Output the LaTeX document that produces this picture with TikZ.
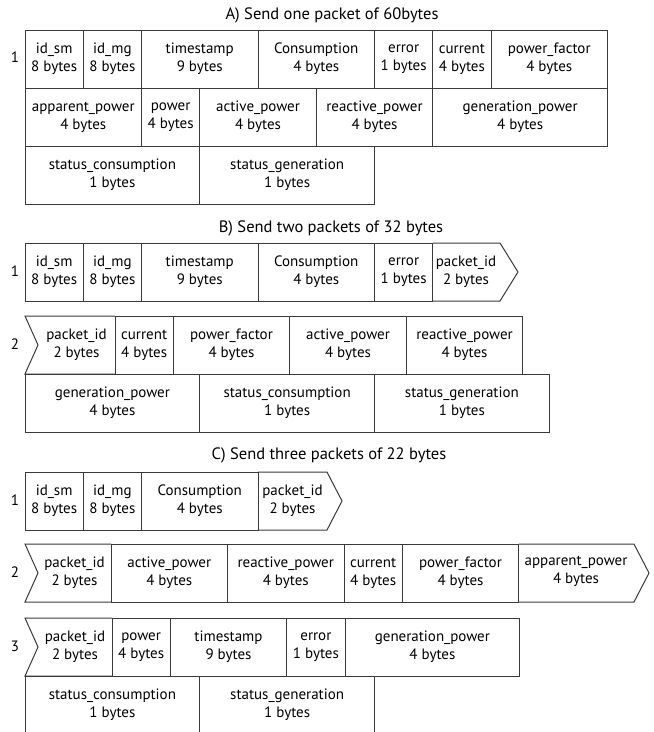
\documentclass[tikz,border=0pt]{standalone}
\usepackage{fontspec}
\setmainfont{PT Sans}
\newcommand\cellf{\fontsize{15}{17.8}\selectfont}
\newcommand\ttlf{\fontsize{16.5}{19}\selectfont}
\definecolor{linec}{HTML}{3A3A3A}
\begin{document}
\begin{tikzpicture}[x=1pt,y=-1pt,
  edge/.style={draw=linec, line width=1pt, line join=miter},
  cell/.style={edge, rectangle, minimum height=58pt, minimum width=#1*58.25pt,
    inner sep=0pt, outer sep=0pt, anchor=north west, align=center, font=\cellf},
  lbl/.style={align=center, font=\cellf, inner sep=0pt},
  ttl/.style={font=\ttlf, inner sep=0pt},
  rowlbl/.style={font=\cellf, inner sep=0pt}]
\useasboundingbox (0,0) rectangle (654,732);
\clip (0,0) rectangle (654,732);

% ---------------- A ----------------
\node[ttl] (ta) at (332,15) {A) Send one packet of 60bytes};
\node[rowlbl] (ra1) at (15,57) {1};
\node[cell=1] (a1) at (25,30) {id\_sm\\8 bytes};
\node[cell=1] (a2) at (a1.north east) {id\_mg\\8 bytes};
\node[cell=2] (a3) at (a2.north east) {timestamp\\9 bytes};
\node[cell=2] (a4) at (a3.north east) {Consumption\\4 bytes};
\node[cell=1] (a5) at (a4.north east) {error\\1 bytes};
\node[cell=1] (a6) at (a5.north east) {current\\4 bytes};
\node[cell=2] (a7) at (a6.north east) {power\_factor\\4 bytes};

\node[cell=2] (a8) at (a1.south west) {apparent\_power\\4 bytes};
\node[cell=1] (a9) at (a8.north east) {power\\4 bytes};
\node[cell=2] (a10) at (a9.north east) {active\_power\\4 bytes};
\node[cell=2] (a11) at (a10.north east) {reactive\_power\\4 bytes};
\node[cell=3] (a12) at (a11.north east) {generation\_power\\4 bytes};

\node[cell=3] (a13) at (a8.south west) {status\_consumption\\1 bytes};
\node[cell=3] (a14) at (a13.north east) {status\_generation\\1 bytes};

% ---------------- B ----------------
\node[ttl] (tb) at (331,228) {B) Send two packets of 32 bytes};
\node[rowlbl] (rb1) at (15,271) {1};
\node[cell=1] (b1) at (25,243) {id\_sm\\8 bytes};
\node[cell=1] (b2) at (b1.north east) {id\_mg\\8 bytes};
\node[cell=2] (b3) at (b2.north east) {timestamp\\9 bytes};
\node[cell=2] (b4) at (b3.north east) {Consumption\\4 bytes};
\node[cell=1] (b5) at (b4.north east) {error\\1 bytes};
\coordinate (b6tr) at (500,243);
\coordinate (b6tip) at (518,272);
\coordinate (b6br) at (500,301);
\draw[edge] (b5.north east) -- (b6tr) -- (b6tip) -- (b6br) -- (b5.south east);
\node[lbl] (b6) at (466,272) {packet\_id\\2 bytes};

\node[rowlbl] (rb2) at (15,344) {2};
\coordinate (b7tl) at (25,316);
\coordinate (b7notch) at (38,345);
\coordinate (b7bl) at (25,374);
\node[cell=1] (b8) at (115,316) {current\\4 bytes};
\draw[edge] (b8.north west) -- (b7tl) -- (b7notch) -- (b7bl) -- (b8.south west);
\node[lbl] (b7) at (76.5,345) {packet\_id\\2 bytes};
\node[cell=2] (b9) at (b8.north east) {power\_factor\\4 bytes};
\node[cell=2] (b10) at (b9.north east) {active\_power\\4 bytes};
\node[cell=2] (b11) at (b10.north east) {reactive\_power\\4 bytes};

\node[cell=3] (b12) at (25,374) {generation\_power\\4 bytes};
\node[cell=3] (b13) at (b12.north east) {status\_consumption\\1 bytes};
\node[cell=3] (b14) at (b13.north east) {status\_generation\\1 bytes};

% ---------------- C ----------------
\node[ttl] (tc) at (329,455) {C) Send three packets of 22 bytes};
\node[rowlbl] (rc1) at (15,500) {1};
\node[cell=1] (c1) at (25,472) {id\_sm\\8 bytes};
\node[cell=1] (c2) at (c1.north east) {id\_mg\\8 bytes};
\node[cell=2] (c3) at (c2.north east) {Consumption\\4 bytes};
\coordinate (c4tr) at (327,472);
\coordinate (c4tip) at (342,501);
\coordinate (c4br) at (327,530);
\draw[edge] (c3.north east) -- (c4tr) -- (c4tip) -- (c4br) -- (c3.south east);
\node[lbl] (c4) at (292.5,501) {packet\_id\\2 bytes};

\node[rowlbl] (rc2) at (15,572) {2};
\coordinate (c5tl) at (25,544);
\coordinate (c5notch) at (38,573);
\coordinate (c5bl) at (25,602);
\node[cell=2] (c6) at (111,544) {active\_power\\4 bytes};
\draw[edge] (c6.north west) -- (c5tl) -- (c5notch) -- (c5bl) -- (c6.south west);
\node[lbl] (c5) at (74.5,573) {packet\_id\\2 bytes};
\node[cell=2] (c7) at (c6.north east) {reactive\_power\\4 bytes};
\node[cell=1] (c8) at (c7.north east) {current\\4 bytes};
\node[cell=2] (c9) at (c8.north east) {power\_factor\\4 bytes};
\coordinate (c10tr) at (634,544);
\coordinate (c10tip) at (649,573);
\coordinate (c10br) at (634,602);
\draw[edge] (c9.north east) -- (c10tr) -- (c10tip) -- (c10br) -- (c9.south east);
\node[lbl] (c10) at (576,571) {apparent\_power\\4 bytes};

\node[rowlbl] (rc3) at (15,646) {3};
\coordinate (c11tl) at (25,618);
\coordinate (c11notch) at (38,647);
\coordinate (c11bl) at (25,676);
\node[cell=1] (c12) at (112,618) {power\\4 bytes};
\draw[edge] (c12.north west) -- (c11tl) -- (c11notch) -- (c11bl) -- (c12.south west);
\node[lbl] (c11) at (75,647) {packet\_id\\2 bytes};
\node[cell=2] (c13) at (c12.north east) {timestamp\\9 bytes};
\node[cell=1] (c14) at (c13.north east) {error\\1 bytes};
\node[cell=3] (c15) at (c14.north east) {generation\_power\\4 bytes};

\node[cell=3] (c16) at (25,676) {status\_consumption\\1 bytes};
\node[cell=3] (c17) at (c16.north east) {status\_generation\\1 bytes};
\end{tikzpicture}
\end{document}
